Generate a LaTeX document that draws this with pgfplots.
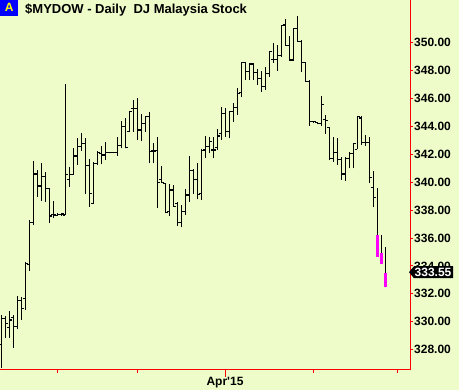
\documentclass[border=0pt]{standalone}
\usepackage{fontspec}
\setmainfont{Liberation Sans}
\usepackage{pgfplots}
\pgfplotsset{compat=1.18}
\usepackage{pgfplotstable}
\definecolor{bg}{RGB}{237,252,200}
\definecolor{mag}{RGB}{255,0,255}
\definecolor{abox}{RGB}{0,0,255}
\definecolor{ayel}{RGB}{255,255,0}
\definecolor{axred}{RGB}{255,0,0}

\pgfdeclareplotmark{tickL}{\pgfpathmoveto{\pgfqpoint{-\pgfplotmarksize}{0pt}}\pgfpathlineto{\pgfqpoint{0pt}{0pt}}\pgfusepathqstroke}
\pgfdeclareplotmark{tickR}{\pgfpathmoveto{\pgfqpoint{0pt}{0pt}}\pgfpathlineto{\pgfqpoint{\pgfplotmarksize}{0pt}}\pgfusepathqstroke}

\pgfplotstableread{
i O H L C
0 328.38 330.48 326.66 330.24
1 330.24 330.41 328.81 329.88
2 329.60 330.77 328.85 330.12
3 330.31 330.48 328.09 329.64
4 329.64 331.84 329.45 331.55
5 331.55 331.79 330.12 330.96
6 331.67 334.30 330.84 334.18
7 334.13 337.29 333.66 337.10
8 337.10 341.52 336.91 340.59
9 340.59 340.87 338.96 339.73
10 339.73 341.40 338.68 340.40
11 340.40 340.73 338.60 339.56
12 339.56 339.56 337.10 337.58
13 337.70 338.65 337.41 337.65
14 337.62 337.77 337.58 337.70
15 337.70 337.77 337.60 337.72
16 337.65 347.04 337.65 340.52
17 340.21 341.07 339.68 340.52
18 340.52 342.43 340.52 341.88
19 341.88 343.14 341.23 342.55
20 342.55 343.50 342.24 342.79
21 342.79 343.19 339.13 341.19
22 341.19 341.66 338.25 339.20
23 338.50 341.42 338.42 341.35
24 341.35 342.24 341.23 342.12
25 342.07 342.60 341.28 341.95
26 341.95 342.91 341.59 342.14
27 342.14 342.19 342.07 342.14
28 342.14 342.19 342.09 342.14
29 342.14 343.27 341.90 342.62
30 342.62 344.39 342.43 343.98
31 343.98 344.58 342.43 342.48
32 343.62 345.10 343.62 345.06
33 345.30 345.89 343.62 345.28
34 345.28 346.01 343.03 343.74
35 343.74 344.87 342.95 344.22
36 344.22 344.77 343.62 344.70
37 344.70 345.06 341.35 342.19
38 342.24 342.79 341.35 342.24
39 342.30 343.27 338.18 339.99
40 340.20 341.16 339.92 339.97
41 339.92 339.97 337.77 337.82
42 337.90 339.87 337.58 339.44
43 339.44 339.80 338.25 338.29
44 338.50 338.60 336.86 337.10
45 337.10 338.37 336.76 337.89
46 337.89 339.49 337.65 339.08
47 339.08 341.88 338.60 340.83
48 340.83 340.92 339.15 340.21
49 340.21 341.40 338.77 339.15
50 339.20 342.36 338.72 342.26
51 342.31 343.31 341.71 342.59
52 342.59 343.22 342.07 342.91
53 342.31 343.22 341.71 342.31
54 342.50 343.79 342.31 343.31
55 343.50 345.37 343.03 344.94
56 344.94 345.29 343.26 343.62
57 343.62 345.13 343.15 345.06
58 345.06 345.70 344.34 345.37
59 345.37 346.73 344.82 346.37
60 346.42 348.64 346.08 348.57
61 348.57 348.64 347.33 347.92
62 347.92 348.52 347.33 348.47
63 348.47 348.52 347.33 347.85
64 347.85 348.09 346.97 347.45
65 347.45 347.99 346.49 346.89
66 346.89 348.23 346.61 347.76
67 347.76 349.43 347.57 349.36
68 348.81 350.00 348.57 348.81
69 348.81 349.83 347.99 349.05
70 349.05 351.27 349.00 351.20
71 351.27 351.67 349.76 349.83
72 349.83 350.48 348.76 348.76
73 348.76 351.03 348.71 351.03
74 351.03 351.91 350.07 350.07
75 350.07 350.19 347.92 348.57
76 348.57 348.64 347.21 347.21
77 347.21 347.33 344.03 344.34
78 344.34 344.41 344.27 344.34
79 344.27 344.34 344.17 344.22
80 344.22 346.18 344.00 345.60
81 344.51 344.82 343.46 344.40
82 343.90 343.98 341.59 341.71
83 341.71 343.26 341.47 342.12
84 342.12 343.14 341.23 341.64
85 341.64 341.83 340.16 340.59
86 340.59 341.83 340.11 341.71
87 341.71 342.19 340.99 342.07
88 342.07 342.79 340.99 342.79
89 342.36 344.75 342.36 344.70
90 344.60 344.75 342.67 342.83
91 342.83 343.38 342.60 342.83
92 342.83 343.26 339.97 340.35
93 339.60 340.80 338.20 338.92
}\ohlc

\pgfplotstableread{
i H L T B
94 339.56 334.66 336.22 334.66
95 336.22 334.14 334.90 334.14
96 335.38 332.46 333.47 332.46
}\lastbars

\begin{document}
\begin{tikzpicture}[x=1pt,y=1pt]
\fill[bg] (0,0) rectangle (459,390);
\begin{axis}[at={(0pt,20pt)}, anchor=south west, scale only axis,
  width=410pt, height=370pt,
  xmin=-0.33, xmax=102.17, ymin=326.54, ymax=353.06,
  axis x line*=bottom, axis y line*=right,
  axis line style={-, axred, line width=1pt},
  tick style={axred, line width=1pt}, tick align=outside, major tick length=3pt,
  xtick={14.09,34,78,99}, xticklabels={},
  extra x ticks={55.92}, extra x tick labels={Apr\textquotesingle 15},
  extra x tick style={major tick length=7pt},
  ytick={328,330,...,350},
  yticklabel style={font=\bfseries\fontsize{12}{14}\selectfont, text=black, inner sep=1pt,
    /pgf/number format/fixed, /pgf/number format/fixed zerofill,
    /pgf/number format/precision=2, /pgf/number format/assume math mode=true},
  xticklabel style={font=\bfseries\fontsize{12}{14}\selectfont, text=black, inner sep=0pt},
  clip=true,
]
\addplot[draw=none, mark=none, forget plot,
  error bars/.cd, y dir=plus, y explicit, error mark=none,
  error bar style={draw=black, line width=1.3pt}]
  table[x=i, y=L, y error plus expr=\thisrow{H}-\thisrow{L}] {\ohlc};
\addplot[only marks, mark=tickL, mark size=2.3pt, mark options={black, line width=1.1pt}, forget plot]
  table[x=i, y=O] {\ohlc};
\addplot[only marks, mark=tickR, mark size=2.3pt, mark options={black, line width=1.1pt}, forget plot]
  table[x=i, y=C] {\ohlc};
\addplot[draw=none, mark=none, forget plot,
  error bars/.cd, y dir=plus, y explicit, error mark=none,
  error bar style={draw=black, line width=1.3pt}]
  table[x=i, y=L, y error plus expr=\thisrow{H}-\thisrow{L}] {\lastbars};
\addplot[draw=none, mark=none, forget plot,
  error bars/.cd, y dir=plus, y explicit, error mark=none,
  error bar style={draw=mag, line width=3pt}]
  table[x=i, y=B, y error plus expr=\thisrow{T}-\thisrow{B}] {\lastbars};
\coordinate (cp) at (axis cs:102.17,333.55);
\end{axis}
\fill[black, shift={(cp)}] (-1,0) -- (4,6) -- (43,6) -- (43,-6) -- (4,-6) -- cycle;
\node[anchor=west, inner sep=0pt, text=white, font=\bfseries\fontsize{12}{14}\selectfont] at ([xshift=4.5pt]cp) {333.55};
\fill[abox] (0,374.3) rectangle (18.3,390);
\node[text=ayel, inner sep=0pt, font=\bfseries\fontsize{12}{14}\selectfont] at (9.15,382.15) {A};
\node[anchor=base west, inner sep=0pt, font=\bfseries\fontsize{13}{15}\selectfont] at (25,376.7) {\$MYDOW - Daily\ \ DJ Malaysia Stock};
\pgfresetboundingbox
\path[use as bounding box] (0,0) rectangle (459,390);
\end{tikzpicture}
\end{document}
